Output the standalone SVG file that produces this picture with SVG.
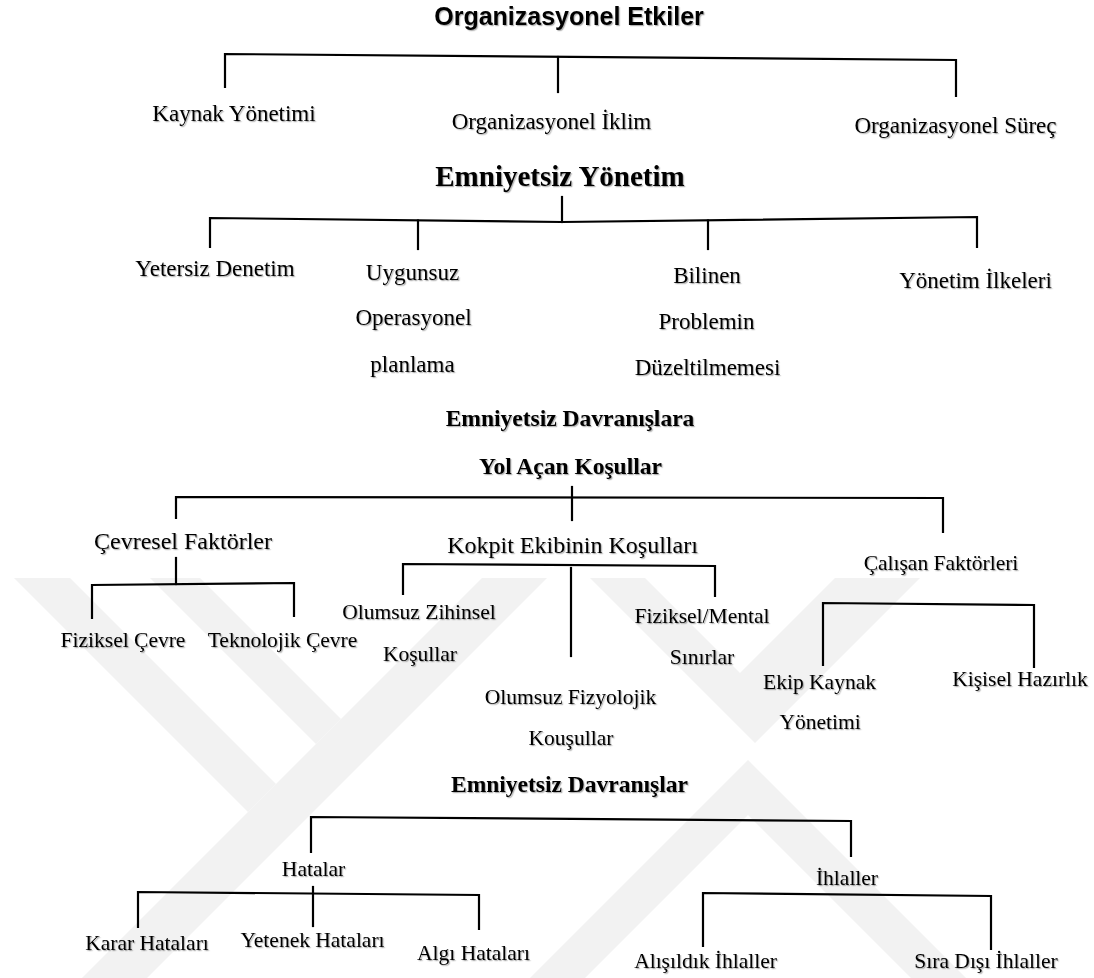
<svg xmlns="http://www.w3.org/2000/svg" width="1094" height="978" viewBox="0 0 1094 978">
<defs>
<filter id="sh" x="-5%" y="-20%" width="110%" height="140%">
<feDropShadow dx="1.2" dy="1.2" stdDeviation="0.6" flood-color="#000" flood-opacity="0.3"/>
</filter>
<style>
.wm{fill:#f2f2f2;stroke:none}
.ln{fill:none;stroke:#000;stroke-width:2.2;stroke-linecap:square}
text{font-family:"Liberation Serif","Times New Roman",serif;fill:#000;text-anchor:middle;filter:url(#sh)}
.t{font-size:23px}
.m{font-size:24px}
.s{font-size:21.5px}
.h{font-weight:bold;font-size:23.5px}
.hb{font-weight:bold;font-size:29px}
.ti{font-family:"Liberation Sans",Arial,sans-serif;font-weight:bold;font-size:25px}
</style>
</defs>
<rect width="1094" height="978" fill="#fff"/>
<g id="watermark">
<polygon class="wm" points="482,578 547,578 147,978 82,978"/>
<polygon class="wm" points="14,578 70,578 276,784 248,812"/>
<polygon class="wm" points="150,578 200,578 341,719 316,744"/>
<polygon class="wm" points="590,578 645,578 740,673 835,578 920,578 755,743"/>
<polygon class="wm" points="748,760 966,978 911,978 748,815 585,978 530,978"/>
</g>
<g id="connectors">
<polyline class="ln" points="225,87 225,54 956,60 956,96"/>
<line class="ln" x1="558" y1="57" x2="558" y2="92"/>
<line class="ln" x1="562" y1="197" x2="562" y2="222"/>
<polyline class="ln" points="210,247 210,218 562,222 977,217 977,247"/>
<line class="ln" x1="418" y1="220.5" x2="418" y2="249"/>
<line class="ln" x1="708" y1="220.5" x2="708" y2="249"/>
<polyline class="ln" points="176,518 176,497 943,498 943,532"/>
<line class="ln" x1="572" y1="487" x2="572" y2="520"/>
<line class="ln" x1="176" y1="558" x2="176" y2="584"/>
<polyline class="ln" points="92,618 92,585 294,583 294,616"/>
<polyline class="ln" points="403,594 403,564 715,566 715,596"/>
<line class="ln" x1="571" y1="568" x2="571" y2="656"/>
<polyline class="ln" points="823,665 823,603 1034,605 1034,667"/>
<polyline class="ln" points="311,852 311,817 851,821 851,856"/>
<polyline class="ln" points="138,927 138,892 479,895 479,929"/>
<line class="ln" x1="313" y1="887" x2="313" y2="926"/>
<polyline class="ln" points="703,946 703,893 991,896 991,949"/>
</g>
<g id="n-organizasyonel-etkiler"><text class="ti" x="569" y="25">Organizasyonel Etkiler</text></g>
<g id="n-kaynak"><text class="t" x="234" y="121">Kaynak Yönetimi</text></g>
<g id="n-iklim"><text class="t" x="551.5" y="128.5">Organizasyonel İklim</text></g>
<g id="n-surec"><text class="t" x="955.5" y="133">Organizasyonel Süreç</text></g>
<g id="n-emniyetsiz-yonetim"><text class="hb" x="560" y="186">Emniyetsiz Yönetim</text></g>
<g id="n-yetersiz"><text class="t" x="215" y="275.5">Yetersiz Denetim</text></g>
<g id="n-uygunsuz"><text class="t" x="412.5" y="279.5">Uygunsuz</text><text class="t" x="413.5" y="324.5">Operasyonel</text><text class="t" x="412.5" y="371.5">planlama</text></g>
<g id="n-bilinen"><text class="t" x="707" y="282.5">Bilinen</text><text class="t" x="706.5" y="329">Problemin</text><text class="t" x="707.5" y="375">Düzeltilmemesi</text></g>
<g id="n-ilkeler"><text class="t" x="975.5" y="287.5">Yönetim İlkeleri</text></g>
<g id="n-yol-acan"><text class="h" x="570" y="426">Emniyetsiz Davranışlara</text><text class="h" x="570.5" y="473.5">Yol Açan Koşullar</text></g>
<g id="n-cevresel"><text class="m" x="183" y="548.5">Çevresel Faktörler</text></g>
<g id="n-kokpit"><text class="m" x="572.5" y="552.5">Kokpit Ekibinin Koşulları</text></g>
<g id="n-calisan"><text class="s" x="941" y="569.5">Çalışan Faktörleri</text></g>
<g id="n-fiziksel-cevre"><text class="s" x="123" y="646.5">Fiziksel Çevre</text></g>
<g id="n-teknolojik"><text class="s" x="282.5" y="646.5">Teknolojik Çevre</text></g>
<g id="n-zihinsel"><text class="s" x="419" y="619">Olumsuz Zihinsel</text><text class="s" x="420" y="661">Koşullar</text></g>
<g id="n-mental"><text class="s" x="702" y="622.5">Fiziksel/Mental</text><text class="s" x="702" y="664">Sınırlar</text></g>
<g id="n-fizyolojik"><text class="s" x="570.5" y="703.5">Olumsuz Fizyolojik</text><text class="s" x="571" y="744.5">Kouşullar</text></g>
<g id="n-ekip"><text class="s" x="819.5" y="689">Ekip Kaynak</text><text class="s" x="820" y="729">Yönetimi</text></g>
<g id="n-kisisel"><text class="s" x="1020" y="685.5">Kişisel Hazırlık</text></g>
<g id="n-davranislar"><text class="h" x="569.5" y="791.5">Emniyetsiz Davranışlar</text></g>
<g id="n-hatalar"><text class="s" x="313.5" y="875.5">Hatalar</text></g>
<g id="n-ihlaller"><text class="s" x="847" y="884.5">İhlaller</text></g>
<g id="n-karar"><text class="s" x="147" y="949.5">Karar Hataları</text></g>
<g id="n-yetenek"><text class="s" x="312.5" y="946.5">Yetenek Hataları</text></g>
<g id="n-algi"><text class="s" x="473.5" y="959.5">Algı Hataları</text></g>
<g id="n-alisildik"><text class="s" x="705.5" y="967.5">Alışıldık İhlaller</text></g>
<g id="n-siradisi"><text class="s" x="986" y="967.5">Sıra Dışı İhlaller</text></g>
</svg>
